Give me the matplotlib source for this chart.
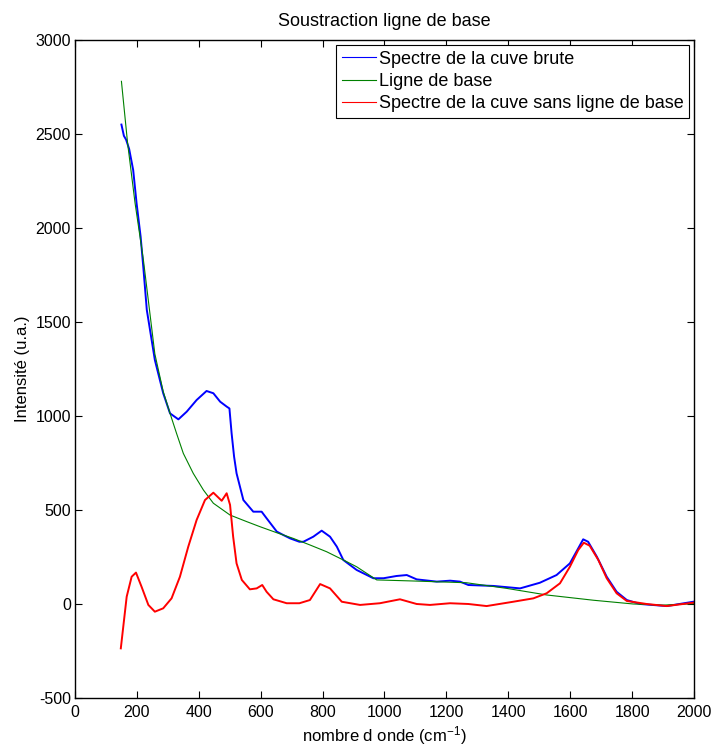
"""
Soustraction ligne de base : spectre brut, ligne de base et spectre corrigé.
"""

import matplotlib
matplotlib.use("Agg")
import matplotlib.pyplot as plt

plt.rcParams["font.family"] = ["Liberation Sans", "DejaVu Sans"]
plt.rcParams["mathtext.default"] = "regular"
plt.rcParams["axes.unicode_minus"] = False

# spectre brut
raw_x = [150, 158, 165, 175, 188, 199, 212, 221, 232, 258, 285, 307, 334, 361,
         393, 425, 447, 469, 490, 499, 506, 514, 522, 544, 576, 603, 619, 652,
         673, 695, 725, 738, 770, 797, 824, 846, 867, 910, 964, 997, 1039, 1072,
         1104, 1169, 1212, 1244, 1271, 1352, 1438, 1502, 1556, 1599, 1626, 1642,
         1658, 1686, 1718, 1750, 1783, 1826, 1912, 1998]
raw_y = [2550, 2490, 2470, 2420, 2308, 2131, 1954, 1786, 1564, 1298, 1121, 1014,
         982, 1023, 1085, 1133, 1121, 1076, 1050, 1040, 908, 784, 695, 553, 491,
         491, 456, 385, 367, 349, 331, 331, 358, 390, 358, 305, 234, 181, 137,
         137, 149, 154, 131, 119, 124, 119, 101, 96, 83, 113, 154, 216, 296, 344,
         331, 252, 145, 65, 21, 0, -11, 12]

# ligne de base
base_x = [150, 170, 194, 221, 258, 285, 307, 328, 350, 382, 415, 447, 501, 555,
          598, 652, 705, 759, 813, 878, 910, 975, 1100, 1265, 1395, 1524, 1675,
          1804, 1900, 2000]
base_y = [2780, 2450, 2133, 1830, 1330, 1130, 1014, 908, 801, 695, 606, 536,
          473, 438, 411, 379, 349, 314, 278, 225, 198, 128, 122, 113, 83, 48,
          20, 0, -6, 2]

# spectre sans ligne de base
corr_x = [148, 167, 183, 197, 215, 237, 258, 285, 312, 339, 366, 393, 420, 447,
          474, 490, 501, 511, 522, 539, 565, 587, 605, 619, 641, 684, 725, 759,
          792, 824, 862, 921, 985, 1050, 1104, 1147, 1212, 1271, 1330, 1416,
          1481, 1524, 1567, 1599, 1626, 1644, 1663, 1691, 1718, 1750, 1783,
          1847, 1912, 1998]
corr_y = [-236, 39, 145, 167, 92, -5, -41, -23, 30, 145, 305, 447, 553, 592,
          549, 589, 527, 358, 216, 128, 78, 83, 101, 65, 25, 4, 4, 21, 106, 83,
          12, -5, 4, 25, 0, -5, 4, 0, -11, 12, 30, 57, 110, 198, 287, 326, 310,
          234, 137, 57, 16, 0, -11, 7]

labels = ["Spectre de la cuve brute", "Ligne de base",
          "Spectre de la cuve sans ligne de base"]

fig = plt.figure(figsize=(7.15, 7.47), dpi=100)
ax = fig.add_axes([0.1049, 0.0656, 0.8657, 0.8809])

ax.plot(raw_x, raw_y, color=(0, 0, 1), lw=1.4, label=labels[0])
ax.plot(base_x, base_y, color=(0, 0.5, 0), lw=0.8, label=labels[1])
ax.plot(corr_x, corr_y, color=(1, 0, 0), lw=1.4, label=labels[2])

ax.set_xlim(0, 2000)
ax.set_ylim(-500, 3000)
ax.set_xticks(range(0, 2001, 200))
ax.set_yticks(range(-500, 3001, 500))
ax.tick_params(direction="in", length=5, width=0.8, top=True, right=True,
               labelsize=11.5, pad=3)
ax.tick_params(axis="x", pad=5)
for sp in ax.spines.values():
    sp.set_linewidth(1.0)

ax.set_title("Soustraction ligne de base", fontsize=13, pad=10)
ax.set_xlabel("nombre d onde (cm$^{-1}$)", fontsize=12, labelpad=3)
ax.set_ylabel("Intensité (u.a.)", fontsize=12, labelpad=4)

leg = ax.legend(loc="upper right", bbox_to_anchor=(0.992, 0.992),
                borderaxespad=0, fontsize=13, fancybox=False, framealpha=1,
                edgecolor="black", handlelength=1.9, handletextpad=0.15,
                borderpad=0.3, labelspacing=0.3)
leg.get_frame().set_linewidth(0.8)
for line in leg.get_lines():
    line.set_linewidth(0.8)

fig.savefig("out.png", dpi=100)
